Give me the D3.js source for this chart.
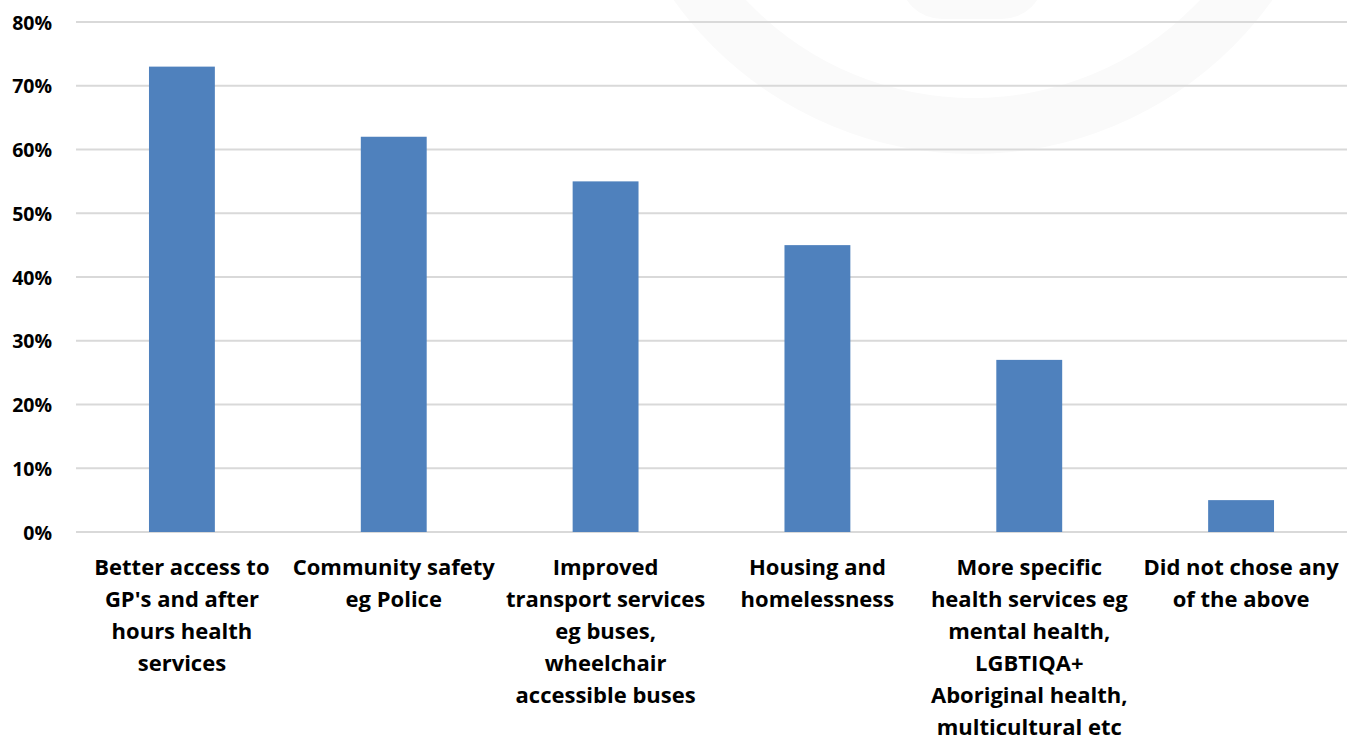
<!DOCTYPE html>
<html>
<head>
<meta charset="utf-8">
<script src="https://cdn.jsdelivr.net/npm/d3@7/dist/d3.min.js"></script>
<style>
  html, body { margin: 0; padding: 0; background: #fff; }
  svg { display: block; }
  text { font-family: "Open Sans", Lato, sans-serif; font-weight: bold; fill: #000; }
</style>
</head>
<body>
<svg id="chart" width="1356" height="738"></svg>
<script>
// Survey responses: share of respondents choosing each service priority
const categories = [
  "Better access to\nGP's and after\nhours health\nservices",
  "Community safety\neg Police",
  "Improved\ntransport services\neg buses,\nwheelchair\naccessible buses",
  "Housing and\nhomelessness",
  "More specific\nhealth services eg\nmental health,\nLGBTIQA+\nAboriginal health,\nmulticultural etc",
  "Did not chose any\nof the above"
];
const values = [73, 62, 55, 45, 27, 5];
const yTicks = [0, 10, 20, 30, 40, 50, 60, 70, 80];

const svg = d3.select("#chart");
const margin = { left: 76, right: 9, top: 22, bottom: 206 };
const W = 1356, H = 738;

// faint background emblem
const emblem = svg.append("g").attr("fill", "#fafafa");
emblem.append("path")
  .attr("transform", "translate(973,-214)")
  .attr("d", d3.arc()({ innerRadius: 312, outerRadius: 368, startAngle: 0, endAngle: 2 * Math.PI }));
emblem.append("rect")
  .attr("x", 900).attr("y", -80).attr("width", 144).attr("height", 99).attr("rx", 42);

const x = d3.scaleBand()
  .domain(categories)
  .range([margin.left, W - margin.right])
  .paddingInner(0).paddingOuter(0);

const y = d3.scaleLinear()
  .domain([0, 80])
  .range([H - margin.bottom, margin.top]);

// horizontal gridlines
svg.append("g")
  .selectAll("line")
  .data(yTicks)
  .join("line")
  .attr("x1", margin.left).attr("x2", W - margin.right)
  .attr("y1", d => y(d)).attr("y2", d => y(d))
  .attr("stroke", "#d9d9d9").attr("stroke-width", 2);

// y axis labels
const yAxis = d3.axisLeft(y).tickValues(yTicks).tickFormat(d => d + "%").tickSize(0).tickPadding(24);
const yg = svg.append("g").attr("transform", `translate(${margin.left},0)`).call(yAxis);
yg.select(".domain").remove();
yg.selectAll("text").attr("font-size", 19.5).attr("font-family", null).attr("dy", "0.36em");

// bars
const barW = x.bandwidth() * 0.311;
svg.append("g")
  .selectAll("rect")
  .data(values)
  .join("rect")
  .attr("x", (d, i) => x(categories[i]) + (x.bandwidth() - barW) / 2)
  .attr("width", barW)
  .attr("y", d => y(d))
  .attr("height", d => y(0) - y(d))
  .attr("fill", "#4f81bd");

// category labels
const lab = svg.append("g")
  .selectAll("text")
  .data(categories)
  .join("text")
  .attr("text-anchor", "middle")
  .attr("font-size", 22)
  .attr("transform", d => `translate(${x(d) + x.bandwidth() / 2},575)`);
lab.selectAll("tspan")
  .data(d => d.split("\n"))
  .join("tspan")
  .attr("x", 0)
  .attr("y", (d, i) => i * 32)
  .text(d => d);
</script>
</body>
</html>
